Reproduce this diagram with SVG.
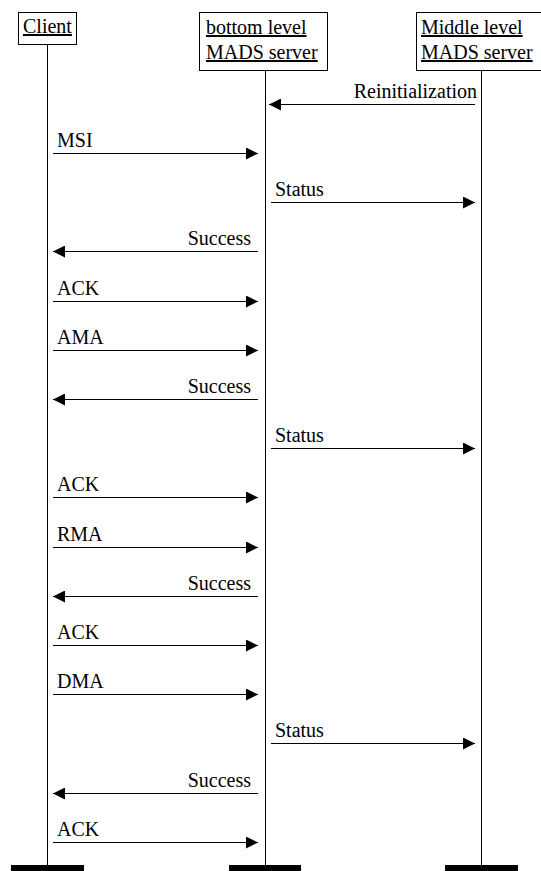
<svg xmlns="http://www.w3.org/2000/svg" width="541" height="871" viewBox="0 0 541 871">
<style>
.box{fill:#fff;stroke:#000;stroke-width:1}
.life{stroke:#000;stroke-width:1}
.bar{fill:#000}
.t{font-family:'Liberation Serif',serif;font-size:20px;fill:#000}
.u{text-decoration:underline}
.msg{stroke:#000;stroke-width:1;marker-end:url(#ah)}
.e{text-anchor:end}
</style>
<defs>
<marker id="ah" markerUnits="userSpaceOnUse" markerWidth="12" markerHeight="12" refX="12" refY="6" orient="auto">
<path d="M0,0 L12,6 L0,12 z" fill="#000"/>
</marker>
</defs>
<rect width="541" height="871" fill="#fff"/>
<g id="client">
<line class="life" x1="47.5" y1="44" x2="47.5" y2="866"/>
<rect class="box" x="18.5" y="12.5" width="58" height="32"/>
<text class="t u" x="23" y="33" font-family="Liberation Serif">Client</text>
<rect class="bar" x="11" y="865" width="73" height="8"/>
</g>
<g id="bottom">
<line class="life" x1="265.5" y1="70" x2="265.5" y2="866"/>
<rect class="box" x="199.5" y="12.5" width="128" height="58"/>
<text class="t u" x="206" y="34">bottom level</text>
<text class="t u" x="206" y="59">MADS server</text>
<rect class="bar" x="229" y="865" width="72" height="8"/>
</g>
<g id="middle">
<line class="life" x1="481.5" y1="70" x2="481.5" y2="866"/>
<rect class="box" x="416.5" y="12.5" width="130" height="58"/>
<text class="t u" x="421" y="34">Middle level</text>
<text class="t u" x="421" y="59">MADS server</text>
<rect class="bar" x="445" y="865" width="73" height="8"/>
</g>
<g id="connectors">
<line class="msg" x1="475" y1="104.5" x2="269" y2="104.5"/>
<text class="t e" x="477" y="98">Reinitialization</text>
<line class="msg" x1="53" y1="153.5" x2="258" y2="153.5"/>
<text class="t" x="57" y="147">MSI</text>
<line class="msg" x1="271" y1="202.5" x2="475" y2="202.5"/>
<text class="t" x="275" y="196">Status</text>
<line class="msg" x1="258" y1="251.5" x2="53" y2="251.5"/>
<text class="t e" x="251" y="245">Success</text>
<line class="msg" x1="53" y1="301.5" x2="258" y2="301.5"/>
<text class="t" x="57" y="295">ACK</text>
<line class="msg" x1="53" y1="350.5" x2="258" y2="350.5"/>
<text class="t" x="57" y="344">AMA</text>
<line class="msg" x1="258" y1="399.5" x2="53" y2="399.5"/>
<text class="t e" x="251" y="393">Success</text>
<line class="msg" x1="271" y1="448.5" x2="475" y2="448.5"/>
<text class="t" x="275" y="442">Status</text>
<line class="msg" x1="53" y1="497.5" x2="258" y2="497.5"/>
<text class="t" x="57" y="491">ACK</text>
<line class="msg" x1="53" y1="547.5" x2="258" y2="547.5"/>
<text class="t" x="57" y="541">RMA</text>
<line class="msg" x1="258" y1="596.5" x2="53" y2="596.5"/>
<text class="t e" x="251" y="590">Success</text>
<line class="msg" x1="53" y1="645.5" x2="258" y2="645.5"/>
<text class="t" x="57" y="639">ACK</text>
<line class="msg" x1="53" y1="694.5" x2="258" y2="694.5"/>
<text class="t" x="57" y="688">DMA</text>
<line class="msg" x1="271" y1="743.5" x2="475" y2="743.5"/>
<text class="t" x="275" y="737">Status</text>
<line class="msg" x1="258" y1="793.5" x2="53" y2="793.5"/>
<text class="t e" x="251" y="787">Success</text>
<line class="msg" x1="53" y1="842.5" x2="258" y2="842.5"/>
<text class="t" x="57" y="836">ACK</text>
</g>
</svg>
